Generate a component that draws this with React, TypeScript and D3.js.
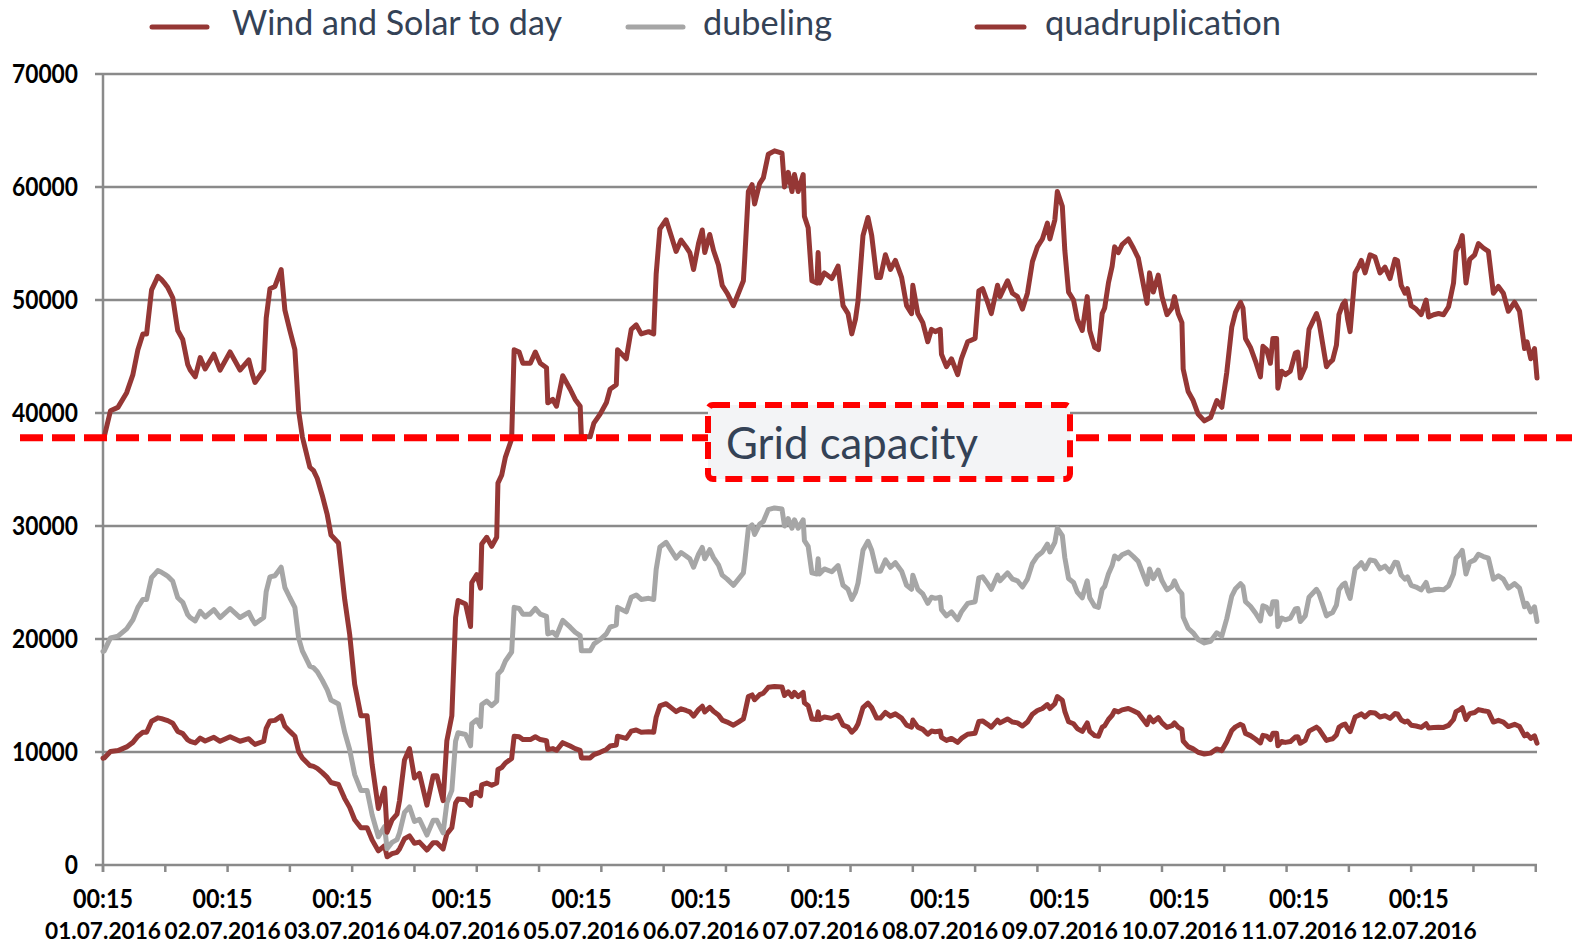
import React from 'react';
import * as d3 from 'd3';

// quarter-hour slots from 01.07.2016 00:15 (96 per day)
const slots = [
  0, 1, 6, 12, 19, 24, 28, 32, 35, 39, 42, 44, 47, 50, 52, 56, 59, 60, 64, 68,
  70, 74, 78, 82, 89, 94, 102, 110, 117, 120, 122, 129, 131, 134, 138, 143, 146, 150, 154, 157,
  160, 162, 166, 169, 172, 176, 180, 183, 189, 194, 198, 202, 207, 212, 216, 221, 226, 228, 232, 236,
  238, 242, 246, 250, 254, 260, 265, 268, 273, 276, 280, 283, 285, 291, 295, 296, 300, 303, 304, 308,
  312, 316, 317, 320, 323, 328, 330, 334, 337, 343, 347, 351, 356, 357, 361, 364, 369, 375, 379, 383,
  384, 391, 394, 399, 404, 407, 412, 413, 420, 424, 428, 432, 438, 442, 444, 447, 452, 456, 460, 464,
  468, 471, 474, 478, 481, 483, 487, 490, 494, 497, 501, 506, 510, 514, 515, 518, 521, 523, 527, 530,
  534, 539, 545, 547, 550, 553, 555, 558, 562, 563, 566, 569, 573, 574, 575, 579, 585, 590, 594, 598,
  601, 604, 606, 610, 614, 617, 621, 624, 628, 632, 636, 641, 645, 649, 650, 654, 658, 662, 665, 668,
  672, 673, 677, 681, 686, 689, 694, 700, 703, 706, 710, 713, 718, 720, 726, 730, 734, 738, 742, 746,
  750, 754, 758, 760, 764, 766, 770, 772, 775, 779, 782, 786, 790, 792, 796, 799, 802, 804, 807, 810,
  812, 815, 818, 823, 827, 831, 835, 838, 840, 843, 847, 850, 854, 858, 860, 863, 866, 867, 871, 875,
  879, 884, 889, 894, 898, 902, 906, 909, 913, 915, 917, 921, 925, 929, 931, 934, 937, 939, 942, 943,
  946, 949, 953, 957, 959, 961, 965, 968, 974, 976, 982, 984, 987, 990, 992, 995, 997, 999, 1001, 1005,
  1008, 1010, 1013, 1017, 1021, 1025, 1029, 1033, 1037, 1039, 1042, 1045, 1047, 1050, 1054, 1058, 1062, 1064, 1068, 1072,
  1076, 1080, 1084, 1086, 1089, 1091, 1094, 1097, 1101, 1104, 1108, 1112, 1116, 1120, 1124, 1128, 1133, 1137, 1141, 1143,
  1146, 1149, 1151,
];

const windSolar = [
  9450, 9475, 10050, 10125, 10450, 10850, 11400, 11750, 11750, 12725, 12900, 13025, 12950, 12850, 12775, 12550, 12000, 11825, 11625, 11075,
  10950, 10800, 11225, 10975, 11300, 10950, 11350, 10950, 11175, 10850, 10675, 10950, 12100, 12750, 12800, 13175, 12275, 11825, 11400, 10050,
  9475, 9250, 8800, 8725, 8550, 8175, 7750, 7300, 7125, 5875, 5100, 4000, 3300, 3300, 2225, 1250, 1700, 725, 1000, 1125,
  1425, 2325, 2575, 1925, 2025, 1325, 1975, 1975, 1425, 2750, 3300, 5475, 5850, 5775, 5275, 6250, 6425, 6125, 7100, 7250,
  7050, 7250, 8450, 8625, 9025, 9425, 11400, 11350, 11100, 11100, 11350, 11100, 11000, 10225, 10300, 10150, 10825, 10525, 10300, 10150,
  9475, 9475, 9775, 9975, 10225, 10525, 10625, 11400, 11200, 11850, 11950, 11750, 11800, 11750, 13075, 14075, 14275, 13925, 13575, 13825,
  13675, 13550, 13175, 13750, 14050, 13550, 13950, 13600, 13275, 12825, 12650, 12375, 12650, 12925, 13375, 14900, 15050, 14625, 15075, 15200,
  15725, 15800, 15750, 15000, 15325, 14900, 15275, 14900, 15275, 14350, 14100, 12925, 12875, 13550, 12875, 13100, 12975, 13250, 12375, 12200,
  11750, 12075, 12475, 13925, 14325, 13925, 13000, 13000, 13500, 13175, 13375, 13000, 12375, 12200, 12825, 12200, 12000, 11575, 11850, 11800,
  11850, 11300, 11025, 11200, 10850, 11200, 11575, 11650, 12700, 12750, 12450, 12200, 12825, 12575, 12925, 12650, 12575, 12300, 12650, 13350,
  13675, 13850, 14200, 13850, 14275, 14900, 14575, 13600, 12675, 12500, 12075, 11825, 12575, 11825, 11450, 11400, 12200, 12325, 12875, 13250,
  13675, 13550, 13725, 13850, 13650, 13425, 12850, 12425, 13100, 12675, 13050, 12575, 12175, 12325, 12575, 12200, 12000, 10975, 10475, 10275,
  9975, 9825, 9900, 10275, 10125, 10900, 11900, 12225, 12450, 12325, 11650, 11450, 11150, 10800, 11475, 11400, 11100, 11650, 11650, 10550,
  10925, 10850, 10925, 11325, 11350, 10775, 11025, 11850, 12200, 12025, 11025, 11100, 11175, 11500, 12175, 12400, 12475, 12075, 11800, 13100,
  13250, 13375, 13100, 13500, 13450, 13100, 13225, 12975, 13400, 13375, 12825, 12650, 12750, 12375, 12300, 12175, 12500, 12125, 12175, 12200,
  12175, 12350, 12875, 13575, 13750, 13925, 12875, 13400, 13500, 13750, 13650, 13575, 12650, 12800, 12650, 12250, 12450, 12250, 11425, 11575,
  11200, 11425, 10775,
];

const dubeling = [
  18900, 18950, 20100, 20250, 20900, 21700, 22800, 23500, 23500, 25450, 25800, 26050, 25900, 25700, 25550, 25100, 24000, 23650, 23250, 22150,
  21900, 21600, 22450, 21950, 22600, 21900, 22700, 21900, 22350, 21700, 21350, 21900, 24200, 25500, 25600, 26350, 24550, 23650, 22800, 20100,
  18950, 18500, 17600, 17450, 17100, 16350, 15500, 14600, 14250, 11750, 10200, 8000, 6600, 6600, 4450, 2500, 3400, 1450, 2000, 2250,
  2850, 4650, 5150, 3850, 4050, 2650, 3950, 3950, 2850, 5500, 6600, 10950, 11700, 11550, 10550, 12500, 12850, 12250, 14200, 14500,
  14100, 14500, 16900, 17250, 18050, 18850, 22800, 22700, 22200, 22200, 22700, 22200, 22000, 20450, 20600, 20300, 21650, 21050, 20600, 20300,
  18950, 18950, 19550, 19950, 20450, 21050, 21250, 22800, 22400, 23700, 23900, 23500, 23600, 23500, 26150, 28150, 28550, 27850, 27150, 27650,
  27350, 27100, 26350, 27500, 28100, 27100, 27900, 27200, 26550, 25650, 25300, 24750, 25300, 25850, 26750, 29800, 30100, 29250, 30150, 30400,
  31450, 31600, 31500, 30000, 30650, 29800, 30550, 29800, 30550, 28700, 28200, 25850, 25750, 27100, 25750, 26200, 25950, 26500, 24750, 24400,
  23500, 24150, 24950, 27850, 28650, 27850, 26000, 26000, 27000, 26350, 26750, 26000, 24750, 24400, 25650, 24400, 24000, 23150, 23700, 23600,
  23700, 22600, 22050, 22400, 21700, 22400, 23150, 23300, 25400, 25500, 24900, 24400, 25650, 25150, 25850, 25300, 25150, 24600, 25300, 26700,
  27350, 27700, 28400, 27700, 28550, 29800, 29150, 27200, 25350, 25000, 24150, 23650, 25150, 23650, 22900, 22800, 24400, 24650, 25750, 26500,
  27350, 27100, 27450, 27700, 27300, 26850, 25700, 24850, 26200, 25350, 26100, 25150, 24350, 24650, 25150, 24400, 24000, 21950, 20950, 20550,
  19950, 19650, 19800, 20550, 20250, 21800, 23800, 24450, 24900, 24650, 23300, 22900, 22300, 21600, 22950, 22800, 22200, 23300, 23300, 21100,
  21850, 21700, 21850, 22650, 22700, 21550, 22050, 23700, 24400, 24050, 22050, 22200, 22350, 23000, 24350, 24800, 24950, 24150, 23600, 26200,
  26500, 26750, 26200, 27000, 26900, 26200, 26450, 25950, 26800, 26750, 25650, 25300, 25500, 24750, 24600, 24350, 25000, 24250, 24350, 24400,
  24350, 24700, 25750, 27150, 27500, 27850, 25750, 26800, 27000, 27500, 27300, 27150, 25300, 25600, 25300, 24500, 24900, 24500, 22850, 23150,
  22400, 22850, 21550,
];

const quadruplication = [
  37800, 37900, 40200, 40500, 41800, 43400, 45600, 47000, 47000, 50900, 51600, 52100, 51800, 51400, 51100, 50200, 48000, 47300, 46500, 44300,
  43800, 43200, 44900, 43900, 45200, 43800, 45400, 43800, 44700, 43400, 42700, 43800, 48400, 51000, 51200, 52700, 49100, 47300, 45600, 40200,
  37900, 37000, 35200, 34900, 34200, 32700, 31000, 29200, 28500, 23500, 20400, 16000, 13200, 13200, 8900, 5000, 6800, 2900, 4000, 4500,
  5700, 9300, 10300, 7700, 8100, 5300, 7900, 7900, 5700, 11000, 13200, 21900, 23400, 23100, 21100, 25000, 25700, 24500, 28400, 29000,
  28200, 29000, 33800, 34500, 36100, 37700, 45600, 45400, 44400, 44400, 45400, 44400, 44000, 40900, 41200, 40600, 43300, 42100, 41200, 40600,
  37900, 37900, 39100, 39900, 40900, 42100, 42500, 45600, 44800, 47400, 47800, 47000, 47200, 47000, 52300, 56300, 57100, 55700, 54300, 55300,
  54700, 54200, 52700, 55000, 56200, 54200, 55800, 54400, 53100, 51300, 50600, 49500, 50600, 51700, 53500, 59600, 60200, 58500, 60300, 60800,
  62900, 63200, 63000, 60000, 61300, 59600, 61100, 59600, 61100, 57400, 56400, 51700, 51500, 54200, 51500, 52400, 51900, 53000, 49500, 48800,
  47000, 48300, 49900, 55700, 57300, 55700, 52000, 52000, 54000, 52700, 53500, 52000, 49500, 48800, 51300, 48800, 48000, 46300, 47400, 47200,
  47400, 45200, 44100, 44800, 43400, 44800, 46300, 46600, 50800, 51000, 49800, 48800, 51300, 50300, 51700, 50600, 50300, 49200, 50600, 53400,
  54700, 55400, 56800, 55400, 57100, 59600, 58300, 54400, 50700, 50000, 48300, 47300, 50300, 47300, 45800, 45600, 48800, 49300, 51500, 53000,
  54700, 54200, 54900, 55400, 54600, 53700, 51400, 49700, 52400, 50700, 52200, 50300, 48700, 49300, 50300, 48800, 48000, 43900, 41900, 41100,
  39900, 39300, 39600, 41100, 40500, 43600, 47600, 48900, 49800, 49300, 46600, 45800, 44600, 43200, 45900, 45600, 44400, 46600, 46600, 42200,
  43700, 43400, 43700, 45300, 45400, 43100, 44100, 47400, 48800, 48100, 44100, 44400, 44700, 46000, 48700, 49600, 49900, 48300, 47200, 52400,
  53000, 53500, 52400, 54000, 53800, 52400, 52900, 51900, 53600, 53500, 51300, 50600, 51000, 49500, 49200, 48700, 50000, 48500, 48700, 48800,
  48700, 49400, 51500, 54300, 55000, 55700, 51500, 53600, 54000, 55000, 54600, 54300, 50600, 51200, 50600, 49000, 49800, 49000, 45700, 46300,
  44800, 45700, 43100,
];

const yTicks = [0, 10000, 20000, 30000, 40000, 50000, 60000, 70000];
const dayLabels = [
  '01.07.2016', '02.07.2016', '03.07.2016', '04.07.2016', '05.07.2016', '06.07.2016',
  '07.07.2016', '08.07.2016', '09.07.2016', '10.07.2016', '11.07.2016', '12.07.2016',
];
const gridCapacity = 37800;

const W = 1572;
const H = 947;
const RED = '#953735';
const GREY = '#A6A6A6';
const AXIS = '#8A8A8A';
const TEXT = '#344256';

export default function App() {
  const x = d3.scaleLinear().domain([0, 1151]).range([103, 1537]);
  const y = d3.scaleLinear().domain([0, 70000]).range([865, 74]);

  const line = (vals: number[]) =>
    d3.line<number>()
      .x((_, i) => x(slots[i]))
      .y(d => y(d))(vals) || '';

  const tickSlots = d3.range(0, 1152, 50);

  const legend = [
    { label: 'Wind and Solar to day', color: RED, x1: 152, x2: 207, tx: 232, tw: 330 },
    { label: 'dubeling', color: GREY, x1: 628, x2: 683, tx: 703, tw: 129 },
    { label: 'quadruplication', color: RED, x1: 977, x2: 1024, tx: 1045, tw: 236 },
  ];

  return (
    <svg width={W} height={H} style={{ position: 'absolute', left: 0, top: 0, background: '#fff' }}>
      {/* gridlines */}
      {yTicks.map(t => (
        <line key={t} x1={95} x2={1537} y1={y(t)} y2={y(t)} stroke={AXIS} strokeWidth={2.5} />
      ))}
      <line x1={103} x2={103} y1={y(70000)} y2={y(0) + 7} stroke={AXIS} strokeWidth={2.5} />
      {tickSlots.map(s => (
        <line key={s} x1={x(s)} x2={x(s)} y1={y(0)} y2={y(0) + 7} stroke={AXIS} strokeWidth={2.5} />
      ))}

      {/* y labels */}
      {yTicks.map(t => (
        <text key={t} x={78} y={y(t)} dy="0.36em" textAnchor="end"
          fontFamily="Lato" fontWeight={700} fontSize={26} fill="#000"
          textLength={String(t).length * 13.2} lengthAdjust="spacingAndGlyphs">{t}</text>
      ))}

      {/* x labels */}
      {dayLabels.map((d, i) => (
        <g key={d} fontFamily="Lato" fontWeight={700} fill="#000" textAnchor="middle">
          <text x={x(i * 96)} y={908} fontSize={26} textLength={60} lengthAdjust="spacingAndGlyphs">00:15</text>
          <text x={x(i * 96)} y={939} fontSize={22.5} textLength={116} lengthAdjust="spacingAndGlyphs">{d}</text>
        </g>
      ))}

      {/* series */}
      <path d={line(windSolar)} fill="none" stroke={RED} strokeWidth={5} strokeLinejoin="round" strokeLinecap="round" />
      <path d={line(dubeling)} fill="none" stroke={GREY} strokeWidth={5} strokeLinejoin="round" strokeLinecap="round" />
      <path d={line(quadruplication)} fill="none" stroke={RED} strokeWidth={5} strokeLinejoin="round" strokeLinecap="round" />

      {/* grid capacity */}
      <line x1={20} x2={W} y1={y(gridCapacity)} y2={y(gridCapacity)} stroke="#FF0000" strokeWidth={7} strokeDasharray="23 9" />
      <rect x={708} y={405} width={362} height={74} rx={5} fill="#F3F4F6" stroke="#FF0000" strokeWidth={6} strokeDasharray="17 9" />
      <text x={726} y={459} fontFamily="Lato" fontSize={44} fill={TEXT} textLength={252} lengthAdjust="spacingAndGlyphs">Grid capacity</text>

      {/* legend */}
      {legend.map(l => (
        <g key={l.label}>
          <line x1={l.x1} x2={l.x2} y1={27} y2={27} stroke={l.color} strokeWidth={5} strokeLinecap="round" />
          <text x={l.tx} y={35} fontFamily="Lato" fontSize={34} fill={TEXT} textLength={l.tw} lengthAdjust="spacingAndGlyphs">{l.label}</text>
        </g>
      ))}
    </svg>
  );
}
